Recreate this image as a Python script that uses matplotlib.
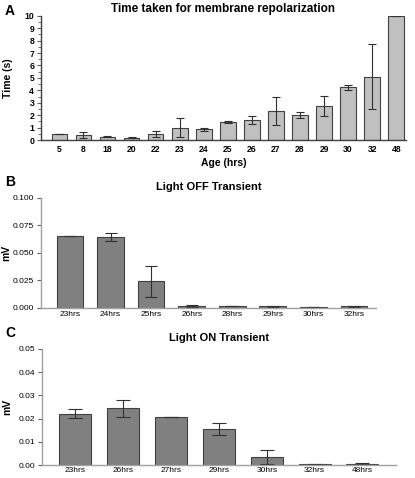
import matplotlib.pyplot as plt
from matplotlib.ticker import MultipleLocator

# Panel A : temps de repolarisation
ages_a = ["5", "8", "18", "20", "22", "23", "24", "25", "26", "27", "28", "29", "30", "32", "48"]
temps_a = [0.45, 0.4, 0.25, 0.2, 0.48, 1.0, 0.85, 1.45, 1.65, 2.35, 2.0, 2.75, 4.25, 5.1, 10.0]
err_a = [0, 0.22, 0.04, 0.03, 0.23, 0.75, 0.1, 0.05, 0.32, 1.1, 0.22, 0.83, 0.22, 2.63, 0]

# Panel B : Light OFF
ages_b = ["23hrs", "24hrs", "25hrs", "26hrs", "28hrs", "29hrs", "30hrs", "32hrs"]
off_b = [0.065, 0.0645, 0.024, 0.002, 0.0018, 0.0015, 0.0008, 0.0015]
err_b = [0, 0.004, 0.0145, 0.001, 0, 0.0003, 0.0003, 0.0005]

# Panel C : Light ON
ages_c = ["23hrs", "26hrs", "27hrs", "29hrs", "30hrs", "32hrs", "48hrs"]
on_c = [0.0222, 0.0245, 0.0207, 0.0155, 0.0035, 0.0003, 0.0005]
err_c = [0.002, 0.0036, 0, 0.0027, 0.003, 0.0001, 0.0004]

plt.rcParams['font.family'] = 'Liberation Sans'

fig = plt.figure(figsize=(4.15, 4.78), dpi=100)

def style(ax, spine_col, lsize):
    for s in ["top", "right"]:
        ax.spines[s].set_visible(False)
    for s in ["left", "bottom"]:
        ax.spines[s].set_color(spine_col)
        ax.spines[s].set_linewidth(1.0)
    ax.tick_params(axis="x", length=0, labelsize=lsize, pad=2.5)
    ax.tick_params(axis="y", direction="out", length=3, color="#606060", labelsize=lsize, pad=2)

# --- A ---
axA = fig.add_axes([0.099, 0.707, 0.879, 0.26])
xa = range(len(ages_a))
axA.bar(xa, temps_a, width=0.65, color="#c0c0c0", edgecolor="#404040", linewidth=0.8,
        yerr=err_a, error_kw=dict(ecolor="#303030", elinewidth=0.8, capsize=3, capthick=0.8))
axA.set_xlim(-0.76, 14.4)
axA.set_ylim(0, 10)
axA.set_xticks(list(xa))
axA.set_xticklabels(ages_a)
axA.yaxis.set_major_locator(MultipleLocator(1))
axA.yaxis.set_minor_locator(MultipleLocator(0.5))
style(axA, "#404040", 6.2)
axA.tick_params(axis="x", pad=3.5)
axA.tick_params(axis="y", which="minor", length=2, color="#606060")
for lab in axA.get_xticklabels() + axA.get_yticklabels():
    lab.set_fontweight("bold")
axA.set_title("Time taken for membrane repolarization", fontsize=8.5, fontweight="bold", pad=3)
axA.set_ylabel("Time (s)", fontsize=7.5, fontweight="bold")
axA.yaxis.set_label_coords(-0.078, 0.5)
axA.set_xlabel("Age (hrs)", fontsize=7.5, fontweight="bold", labelpad=3)
fig.text(0.012, 0.978, "A", fontsize=10, fontweight="bold", va="center")

# --- B ---
axB = fig.add_axes([0.099, 0.356, 0.807, 0.230])
xb = range(len(ages_b))
axB.bar(xb, off_b, width=0.66, color="#808080", edgecolor="#404040", linewidth=0.8,
        yerr=err_b, error_kw=dict(ecolor="#303030", elinewidth=0.8, capsize=4, capthick=0.8))
axB.set_xlim(-0.71, 7.54)
axB.set_ylim(0, 0.1)
axB.set_xticks(list(xb))
axB.set_xticklabels(ages_b)
axB.set_yticks([0, 0.025, 0.05, 0.075, 0.1])
axB.set_yticklabels(["0.000", "0.025", "0.050", "0.075", "0.100"])
style(axB, "#a0a0a0", 6.0)
axB.set_title("Light OFF Transient", fontsize=8, fontweight="bold", pad=6)
axB.set_ylabel("mV", fontsize=7.5, fontweight="bold")
axB.yaxis.set_label_coords(-0.09, 0.5)
fig.text(0.012, 0.619, "B", fontsize=10, fontweight="bold", va="center")

# --- C ---
axC = fig.add_axes([0.101, 0.027, 0.853, 0.243])
xc = range(len(ages_c))
axC.bar(xc, on_c, width=0.67, color="#808080", edgecolor="#404040", linewidth=0.8,
        yerr=err_c, error_kw=dict(ecolor="#303030", elinewidth=0.8, capsize=5, capthick=0.8))
axC.set_xlim(-0.7, 6.7)
axC.set_ylim(0, 0.05)
axC.set_xticks(list(xc))
axC.set_xticklabels(ages_c)
axC.set_yticks([0, 0.01, 0.02, 0.03, 0.04, 0.05])
axC.set_yticklabels(["0.00", "0.01", "0.02", "0.03", "0.04", "0.05"])
style(axC, "#a0a0a0", 6.0)
axC.tick_params(axis="x", pad=1.5)
axC.set_title("Light ON Transient", fontsize=8, fontweight="bold", pad=6)
axC.set_ylabel("mV", fontsize=7.5, fontweight="bold")
axC.yaxis.set_label_coords(-0.085, 0.5)
fig.text(0.012, 0.303, "C", fontsize=10, fontweight="bold", va="center")

fig.savefig("out.png", dpi=100)
